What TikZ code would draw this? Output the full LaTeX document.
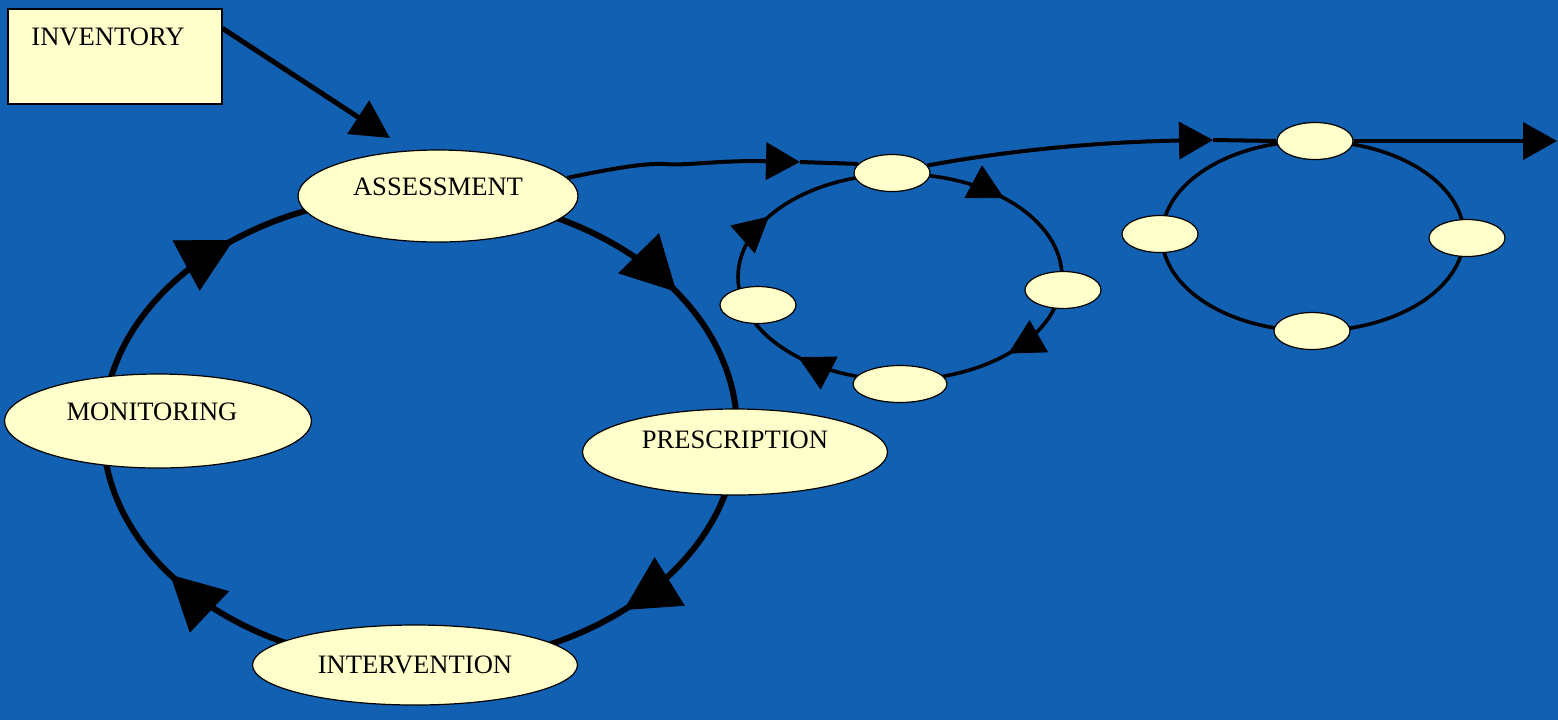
\documentclass[tikz,border=0pt]{standalone}
\usepackage{fontspec}
\setmainfont{Liberation Serif}
\usetikzlibrary{arrows.meta,calc,shapes.geometric,decorations.markings}
\definecolor{bg}{RGB}{18,96,178}
\definecolor{cream}{RGB}{255,255,204}
\begin{document}
\begin{tikzpicture}[x=0.5pt,y=-0.5pt,
  txt/.style={font=\fontsize{13.3}{15}\selectfont, text=black},
  bignode/.style={ellipse, draw=black, line width=0.6pt, fill=cream, inner sep=0pt},
  smallnode/.style={ellipse, draw=black, line width=0.6pt, fill=cream, minimum width=38pt, minimum height=18.5pt, inner sep=0pt},
  bigring/.style={draw=black, line width=3pt},
  smallring/.style={draw=black, line width=1.8pt},
  conn/.style={draw=black, line width=2pt},
  bigtip/.tip={Triangle[length=27pt,width=28.5pt]},
  smalltip/.tip={Triangle[length=17.5pt,width=18.5pt]},
  linetip/.tip={Triangle[length=17pt,width=18.5pt]},
  tipat/.style={decorate, decoration={markings, mark=at position 0.999 with {\arrow{#1}}}},
]
\fill[bg] (0,0) rectangle (1558,720);
\useasboundingbox (0,0) rectangle (1558,720);

% rings
\coordinate (R0) at (420,430);
\coordinate (R1) at (900,277);
\coordinate (R2) at (1313,236);
\draw[bigring] (R0) ellipse [x radius=317, y radius=235];
\foreach \t in {324,50,142,234}{
  \path[tipat=bigtip] ($(R0)+(\t-20:317 and 235)$)
    arc[start angle=\t-20, end angle=\t, x radius=317, y radius=235];
}
\draw[smallring] (R1) ellipse [x radius=162, y radius=103];
\foreach \t in {310,48,129,216}{
  \path[tipat=smalltip] ($(R1)+(\t-20:162 and 103)$)
    arc[start angle=\t-20, end angle=\t, x radius=162, y radius=103];
}
\draw[smallring] (R2) ellipse [x radius=151, y radius=95];

% inventory box
\node[draw=black, line width=0.6pt, fill=cream, minimum width=107pt, minimum height=47.5pt, inner sep=0pt] (inv) at (115,56.5) {};
\node[txt, anchor=west, inner sep=0pt] (invtxt) at (31,37) {INVENTORY};

% main nodes
\node[bignode, minimum width=140pt, minimum height=46pt,
  label={[txt,yshift=4.5pt]center:ASSESSMENT}] (A) at (438,196) {};
\node[bignode, minimum width=152.5pt, minimum height=43pt,
  label={[txt,yshift=6pt]center:PRESCRIPTION}] (P) at (735,452) {};
\node[bignode, minimum width=162.5pt, minimum height=40pt,
  label={[txt]center:INTERVENTION}] (I) at (415,665) {};
\node[bignode, minimum width=153.5pt, minimum height=47pt,
  label={[txt,yshift=4.5pt,xshift=-3pt]center:MONITORING}] (M) at (158,421) {};

% small ring 1 nodes
\node[smallnode] (m1t) at (892,173) {};
\node[smallnode] (m1l) at (758,305) {};
\node[smallnode] (m1r) at (1063,290) {};
\node[smallnode, minimum width=47pt] (m1b) at (900,384) {};

% small ring 2 nodes
\node[smallnode] (m2t) at (1315,141) {};
\node[smallnode] (m2l) at (1160,234) {};
\node[smallnode] (m2r) at (1467,238) {};
\node[smallnode] (m2b) at (1312,331) {};

% connectors
\coordinate (invend) at (390,138);
\draw[conn, line width=2.5pt, -{Triangle[length=19pt,width=19.5pt]}] ([yshift=-10pt]inv.north east) -- (invend);

\coordinate (k1) at (800,162);
\draw[conn, -{linetip}] (A.8) .. controls (615,168) and (645,163) .. (665,164)
  .. controls (685,166) and (720,160) .. (k1);
\draw[conn] (k1) -- (m1t.165);

\coordinate (k2) at (1213,140);
\draw[conn, -{linetip}] (m1t.12) .. controls (1000,152) and (1090,142) .. (k2);
\draw[conn] (k2) -- (m2t.west);

\coordinate (outend) at (1557,141);
\draw[conn, -{linetip}] (m2t.east) -- (outend);
\end{tikzpicture}
\end{document}
